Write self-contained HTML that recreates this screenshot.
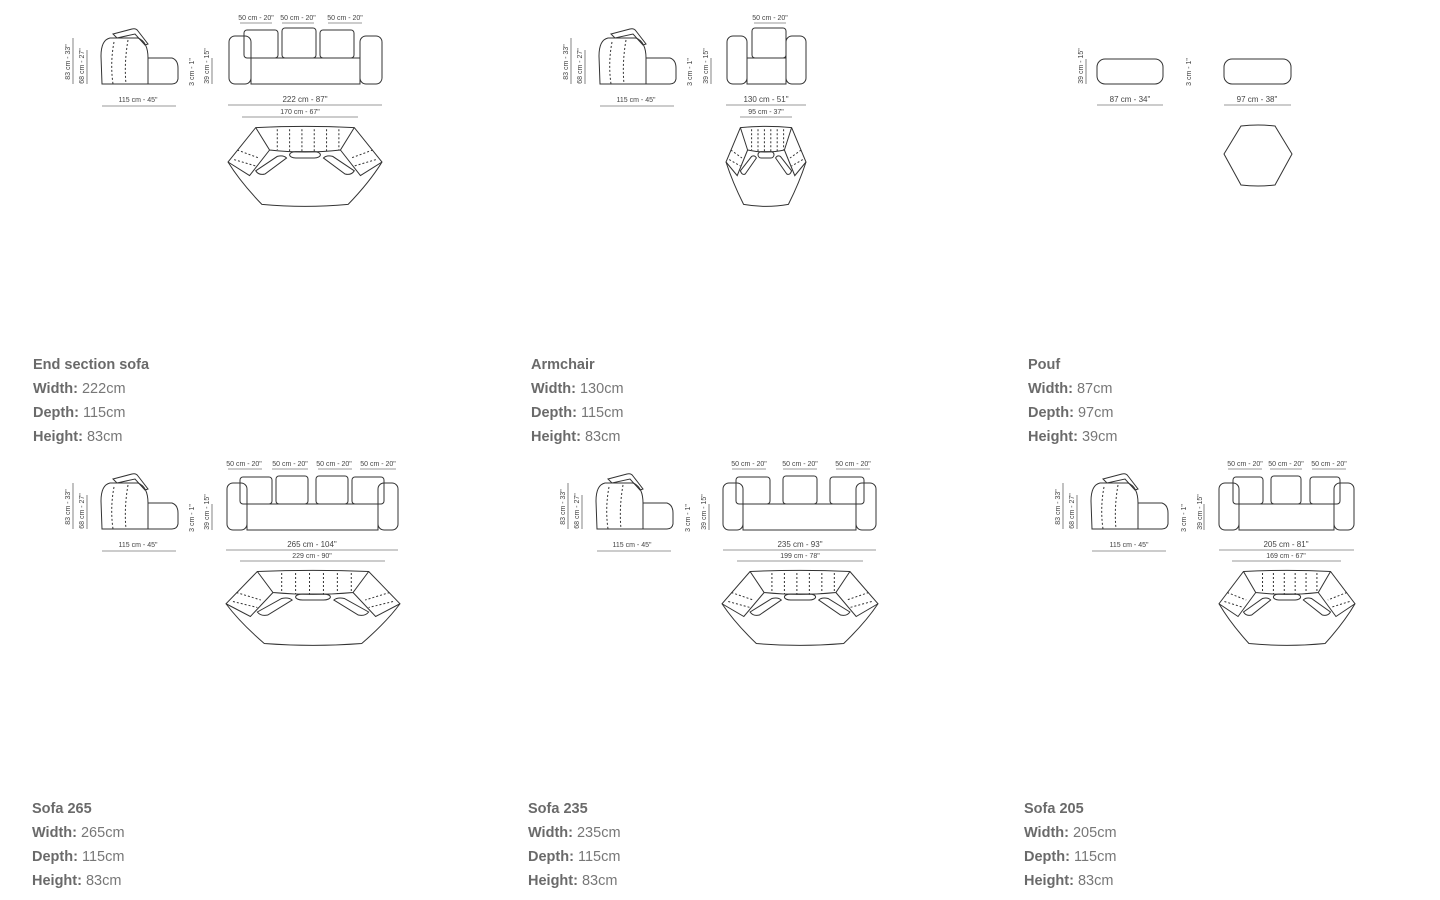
<!DOCTYPE html>
<html><head><meta charset="utf-8">
<style>
html,body{margin:0;padding:0;background:#fff;width:1440px;height:900px;overflow:hidden;}
svg{position:absolute;left:0;top:0}
.t{position:absolute;font-family:"Liberation Sans",sans-serif;font-size:14.5px;color:#777;line-height:24px;}
.t b{font-weight:bold;color:#6a6a6a}
.d{font-family:"Liberation Sans",sans-serif;font-size:7px;fill:#444;text-anchor:middle}
</style></head><body>
<svg width="1440" height="900" viewBox="0 0 1440 900">
<defs>
<g id="side" fill="none" stroke="#333" stroke-width="1">
 <path d="M13 6 L32 1 Q36 0 38 3 L48 16 L45 17 L35 6 L17 10 Z"/>
 <path d="M2 56 L1 28 Q1 12 10 10 L38 10 Q48 14 48 30 L48 56 Z"/>
 <path d="M48 56 L48 30 L72 30 Q78 32 78 40 L78 51 Q77 56 72 56 Z"/>
 <path d="M14 14 Q10 35 13 56 M28 12 Q24 35 26 56" stroke-dasharray="2 2"/>
 <path d="M-27 10 V56 M-13 22 V56" stroke-width="0.6"/>
 <path d="M2 78 H76" stroke-width="0.6"/>
</g>
<g id="top" fill="none" stroke="#333">
 <path vector-effect="non-scaling-stroke" d="M18 2 Q50 -1 82 2 L100 45 Q92 70 78 98 Q50 103 22 98 Q8 70 0 45 Z"/>
 <path vector-effect="non-scaling-stroke" d="M18 2 L27 30 Q50 35 73 30 L82 2 M0 45 L14 62 L27 30 M100 45 L86 62 L73 30"/>
 <path vector-effect="non-scaling-stroke" stroke-dasharray="2 2" d="M32 4 V30 M40 4 V32 M48 4 V33 M56 4 V33 M64 4 V32 M72 4 V30 M6 30 L20 40 M4 42 L18 50 M94 30 L80 40 M96 42 L82 50"/>
 <rect vector-effect="non-scaling-stroke" x="40" y="32" width="20" height="8" rx="4"/>
 <path vector-effect="non-scaling-stroke" d="M18 56 L32 38 Q36 36 38 40 L24 60 Q20 62 18 56 Z M82 56 L68 38 Q64 36 62 40 L76 60 Q80 62 82 56 Z"/>
</g>
</defs>

<!-- ROW 1 col1 -->
<use href="#side" x="100" y="28"/>
<text class="d" transform="translate(70,62) rotate(-90)">83 cm - 33"</text>
<text class="d" transform="translate(84,66) rotate(-90)">68 cm - 27"</text>
<text class="d" x="138" y="102">115 cm - 45"</text>
<g fill="none" stroke="#333">
 <rect x="229" y="36" width="22" height="48" rx="6"/><rect x="360" y="36" width="22" height="48" rx="6"/>
 <rect x="251" y="58" width="109" height="26"/>
 <rect x="244" y="30" width="34" height="28" rx="3"/><rect x="282" y="28" width="34" height="30" rx="3"/><rect x="320" y="30" width="34" height="28" rx="3"/>
 <path d="M212 58 V84 M228 105 H382 M242 117 H358 M240 23 H272 M282 23 H314 M328 23 H362" stroke-width="0.6"/>
</g>
<text class="d" x="256" y="20">50 cm - 20"</text><text class="d" x="298" y="20">50 cm - 20"</text><text class="d" x="345" y="20">50 cm - 20"</text>
<text class="d" transform="translate(194,72) rotate(-90)">3 cm - 1"</text>
<text class="d" transform="translate(209,66) rotate(-90)">39 cm - 15"</text>
<text class="d" x="305" y="102" style="font-size:8px">222 cm - 87"</text>
<text class="d" x="300" y="114">170 cm - 67"</text>
<use href="#top" transform="translate(228,126) scale(1.54,0.8)"/>

<!-- ROW 1 col2 -->
<use href="#side" x="598" y="28"/>
<text class="d" transform="translate(568,62) rotate(-90)">83 cm - 33"</text>
<text class="d" transform="translate(582,66) rotate(-90)">68 cm - 27"</text>
<text class="d" x="636" y="102">115 cm - 45"</text>
<g fill="none" stroke="#333">
 <rect x="727" y="36" width="20" height="48" rx="6"/><rect x="786" y="36" width="20" height="48" rx="6"/>
 <rect x="747" y="58" width="39" height="26"/>
 <rect x="752" y="28" width="34" height="30" rx="3"/>
 <path d="M711 58 V84 M726 105 H806 M740 117 H792 M754 23 H786" stroke-width="0.6"/>
</g>
<text class="d" x="770" y="20">50 cm - 20"</text>
<text class="d" transform="translate(692,72) rotate(-90)">3 cm - 1"</text>
<text class="d" transform="translate(708,66) rotate(-90)">39 cm - 15"</text>
<text class="d" x="766" y="102" style="font-size:8px">130 cm - 51"</text>
<text class="d" x="766" y="114">95 cm - 37"</text>
<use href="#top" transform="translate(726,126) scale(0.8,0.8)"/>

<!-- ROW 1 col3 pouf -->
<g fill="none" stroke="#333">
 <rect x="1097" y="59" width="66" height="25" rx="8"/>
 <rect x="1224" y="59" width="67" height="25" rx="8"/>
 <path d="M1241 126 Q1258 124 1275 126 L1292 154 L1275 185 Q1258 187 1241 185 L1224 154 Z"/>
 <path d="M1086 59 V84 M1097 105 H1163 M1224 105 H1291" stroke-width="0.6"/>
</g>
<text class="d" transform="translate(1083,66) rotate(-90)">39 cm - 15"</text>
<text class="d" transform="translate(1191,72) rotate(-90)">3 cm - 1"</text>
<text class="d" x="1130" y="102" style="font-size:8px">87 cm - 34"</text>
<text class="d" x="1257" y="102" style="font-size:8px">97 cm - 38"</text>

<!-- ROW 2 col1 -->
<use href="#side" x="100" y="473"/>
<text class="d" transform="translate(70,507) rotate(-90)">83 cm - 33"</text>
<text class="d" transform="translate(84,511) rotate(-90)">68 cm - 27"</text>
<text class="d" x="138" y="547">115 cm - 45"</text>
<g fill="none" stroke="#333">
 <rect x="227" y="483" width="20" height="47" rx="6"/><rect x="378" y="483" width="20" height="47" rx="6"/>
 <rect x="247" y="504" width="131" height="26"/>
 <rect x="240" y="477" width="32" height="27" rx="3"/><rect x="276" y="476" width="32" height="28" rx="3"/><rect x="316" y="476" width="32" height="28" rx="3"/><rect x="352" y="477" width="32" height="27" rx="3"/>
 <path d="M212 504 V530 M226 550 H398 M240 561 H385 M228 469 H262 M272 469 H308 M318 469 H352 M360 469 H396" stroke-width="0.6"/>
</g>
<text class="d" x="244" y="466">50 cm - 20"</text><text class="d" x="290" y="466">50 cm - 20"</text><text class="d" x="334" y="466">50 cm - 20"</text><text class="d" x="378" y="466">50 cm - 20"</text>
<text class="d" transform="translate(194,518) rotate(-90)">3 cm - 1"</text>
<text class="d" transform="translate(209,512) rotate(-90)">39 cm - 15"</text>
<text class="d" x="312" y="547" style="font-size:8px">265 cm - 104"</text>
<text class="d" x="312" y="558">229 cm - 90"</text>
<use href="#top" transform="translate(226,570) scale(1.74,0.75)"/>

<!-- ROW 2 col2 -->
<use href="#side" x="595" y="473"/>
<text class="d" transform="translate(565,507) rotate(-90)">83 cm - 33"</text>
<text class="d" transform="translate(579,511) rotate(-90)">68 cm - 27"</text>
<text class="d" x="632" y="547">115 cm - 45"</text>
<g fill="none" stroke="#333">
 <rect x="723" y="483" width="20" height="47" rx="6"/><rect x="856" y="483" width="20" height="47" rx="6"/>
 <rect x="743" y="504" width="113" height="26"/>
 <rect x="736" y="477" width="34" height="27" rx="3"/><rect x="783" y="476" width="34" height="28" rx="3"/><rect x="830" y="477" width="34" height="27" rx="3"/>
 <path d="M709 504 V530 M723 550 H876 M737 561 H863 M732 469 H766 M783 469 H817 M836 469 H870" stroke-width="0.6"/>
</g>
<text class="d" x="749" y="466">50 cm - 20"</text><text class="d" x="800" y="466">50 cm - 20"</text><text class="d" x="853" y="466">50 cm - 20"</text>
<text class="d" transform="translate(690,518) rotate(-90)">3 cm - 1"</text>
<text class="d" transform="translate(706,512) rotate(-90)">39 cm - 15"</text>
<text class="d" x="800" y="547" style="font-size:8px">235 cm - 93"</text>
<text class="d" x="800" y="558">199 cm - 78"</text>
<use href="#top" transform="translate(722,570) scale(1.56,0.75)"/>

<!-- ROW 2 col3 -->
<use href="#side" x="1090" y="473"/>
<text class="d" transform="translate(1060,507) rotate(-90)">83 cm - 33"</text>
<text class="d" transform="translate(1074,511) rotate(-90)">68 cm - 27"</text>
<text class="d" x="1129" y="547">115 cm - 45"</text>
<g fill="none" stroke="#333">
 <rect x="1219" y="483" width="20" height="47" rx="6"/><rect x="1334" y="483" width="20" height="47" rx="6"/>
 <rect x="1239" y="504" width="95" height="26"/>
 <rect x="1233" y="477" width="30" height="27" rx="3"/><rect x="1271" y="476" width="30" height="28" rx="3"/><rect x="1310" y="477" width="30" height="27" rx="3"/>
 <path d="M1204 504 V530 M1219 550 H1354 M1232 561 H1341 M1228 469 H1262 M1270 469 H1302 M1312 469 H1346" stroke-width="0.6"/>
</g>
<text class="d" x="1245" y="466">50 cm - 20"</text><text class="d" x="1286" y="466">50 cm - 20"</text><text class="d" x="1329" y="466">50 cm - 20"</text>
<text class="d" transform="translate(1186,518) rotate(-90)">3 cm - 1"</text>
<text class="d" transform="translate(1202,512) rotate(-90)">39 cm - 15"</text>
<text class="d" x="1286" y="547" style="font-size:8px">205 cm - 81"</text>
<text class="d" x="1286" y="558">169 cm - 67"</text>
<use href="#top" transform="translate(1219,570) scale(1.36,0.75)"/>
</svg>

<div class="t" style="left:33px;top:353px"><b>End section sofa</b><br><b>Width:</b> 222cm<br><b>Depth:</b> 115cm<br><b>Height:</b> 83cm</div>
<div class="t" style="left:531px;top:353px"><b>Armchair</b><br><b>Width:</b> 130cm<br><b>Depth:</b> 115cm<br><b>Height:</b> 83cm</div>
<div class="t" style="left:1028px;top:353px"><b>Pouf</b><br><b>Width:</b> 87cm<br><b>Depth:</b> 97cm<br><b>Height:</b> 39cm</div>
<div class="t" style="left:32px;top:797px"><b>Sofa 265</b><br><b>Width:</b> 265cm<br><b>Depth:</b> 115cm<br><b>Height:</b> 83cm</div>
<div class="t" style="left:528px;top:797px"><b>Sofa 235</b><br><b>Width:</b> 235cm<br><b>Depth:</b> 115cm<br><b>Height:</b> 83cm</div>
<div class="t" style="left:1024px;top:797px"><b>Sofa 205</b><br><b>Width:</b> 205cm<br><b>Depth:</b> 115cm<br><b>Height:</b> 83cm</div>
</body></html>
